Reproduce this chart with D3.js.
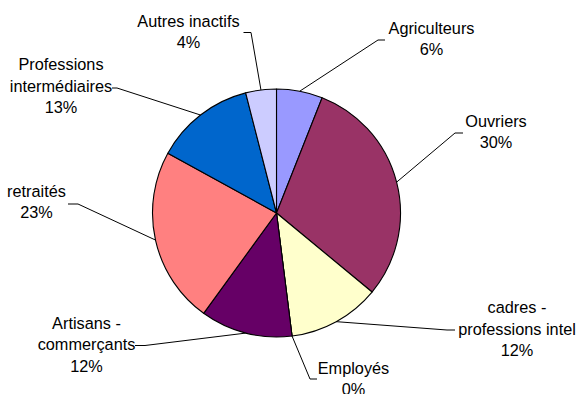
<!DOCTYPE html>
<html>
<head>
<meta charset="utf-8">
<script src="https://cdn.jsdelivr.net/npm/d3@7"></script>
<style>
  html, body { margin: 0; padding: 0; background: #fff; }
  svg { display: block; }
  text { font-family: "Liberation Sans", Arial, sans-serif; font-size: 16.3px; fill: #000; }
</style>
</head>
<body>
<svg id="chart" width="579" height="394"></svg>
<script>
// Répartition par catégorie socio-professionnelle (%)
const categories = [
  "Agriculteurs",
  "Ouvriers",
  "cadres - professions intel",
  "Employés",
  "Artisans - commerçants",
  "retraités",
  "Professions intermédiaires",
  "Autres inactifs"
];
const values = [6, 30, 12, 0, 12, 23, 13, 4];
const colors = ["#9999FF", "#993366", "#FFFFCC", "#CCFFFF", "#660066", "#FF8080", "#0066CC", "#CCCCFF"];

// Label placement: text centre, first baseline, words on the first line,
// and the leader's two points beside the text (end, elbow).
const labelLayout = [
  { cx: 431.5, y: 33.5,  firstWords: 1, lead: [[385, 40], [378, 40]] },
  { cx: 496,   y: 126.5, firstWords: 1, lead: [[463, 133], [455, 133]] },
  { cx: 517,   y: 313,   firstWords: 2, lead: [[455, 330], [447, 330]] },
  { cx: 353.5, y: 373.5, firstWords: 1, lead: [[317, 379], [310, 379]] },
  { cx: 86.5,  y: 328.5, firstWords: 2, lead: [[135, 345.5], [145, 345.5]] },
  { cx: 36.5,  y: 196.5, firstWords: 2, lead: [[68, 204], [78, 204]] },
  { cx: 61,    y: 70,    firstWords: 1, lead: [[112, 88], [117, 88]] },
  { cx: 188.5, y: 26.5,  firstWords: 2, lead: [[243.5, 32.5], [251, 32.5]] }
];

const cx = 276.5, cy = 213, radius = 124;
const lineGap = 21.7;

const svg = d3.select("#chart");
const g = svg.append("g").attr("transform", `translate(${cx},${cy})`);

const data = categories.map((c, i) => ({ name: c, value: values[i], color: colors[i], layout: labelLayout[i] }));

const pie = d3.pie().sort(null).value(d => d.value);
const arcs = pie(data);
const arc = d3.arc().innerRadius(0).outerRadius(radius);

g.selectAll("path.slice")
  .data(arcs)
  .join("path")
  .attr("class", "slice")
  .attr("d", arc)
  .attr("fill", d => d.data.color)
  .attr("stroke", "#000")
  .attr("stroke-width", 1.1)
  .attr("stroke-linejoin", "round");

// Leader lines from the slice edge (mid-angle) to the label
const line = d3.line();
svg.selectAll("path.leader")
  .data(arcs)
  .join("path")
  .attr("class", "leader")
  .attr("fill", "none")
  .attr("stroke", "#000")
  .attr("stroke-width", 1)
  .attr("d", d => {
    const a = (d.startAngle + d.endAngle) / 2;
    const edge = [cx + radius * Math.sin(a), cy - radius * Math.cos(a)];
    const [p1, p2] = d.data.layout.lead;
    return line([p1, p2, edge]);
  });

// Labels: name (wrapped) and percentage
const labels = svg.selectAll("text.label")
  .data(arcs)
  .join("text")
  .attr("class", "label")
  .attr("text-anchor", "middle");

labels.each(function (d) {
  const L = d.data.layout;
  const words = d.data.name.split(" ");
  const lines = [words.slice(0, L.firstWords).join(" ")];
  if (words.length > L.firstWords) lines.push(words.slice(L.firstWords).join(" "));
  lines.push(d.data.value + "%");
  const t = d3.select(this);
  lines.forEach((s, i) => {
    t.append("tspan").attr("x", L.cx).attr("y", L.y + i * lineGap).text(s);
  });
});
</script>
</body>
</html>
